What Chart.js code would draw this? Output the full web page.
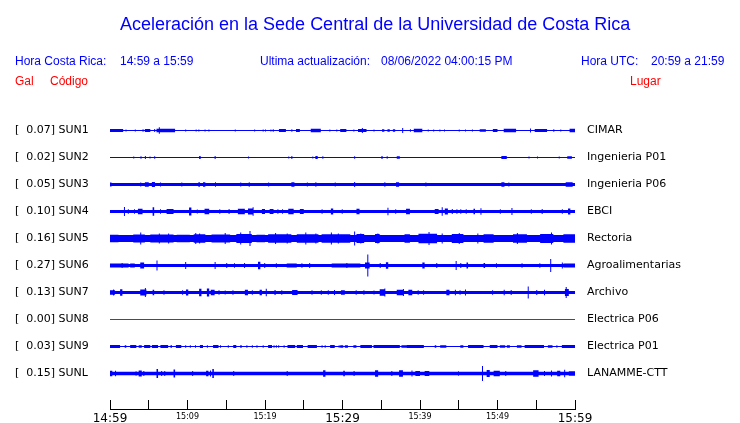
<!DOCTYPE html>
<html><head><meta charset="utf-8">
<script src="https://cdn.jsdelivr.net/npm/chart.js@4.4.1/dist/chart.umd.min.js"></script>
<style>
html,body{margin:0;padding:0;background:#fff;}
#wrap{position:relative;width:740px;height:423px;overflow:hidden;background:#fff;}
#wrap canvas{position:absolute;left:0;top:0;}
.t{position:absolute;font-family:"Liberation Sans",Arial,sans-serif;white-space:pre;line-height:1;}
.b{color:#0000ff;font-size:12px;top:55px;}
.r{color:#ff0000;font-size:12px;top:75px;}
</style></head><body>
<div id="wrap">
<canvas id="c" width="740" height="423"></canvas>
<div class="t" style="left:120px;top:15px;font-size:18px;color:#0000ff">Aceleración en la Sede Central de la Universidad de Costa Rica</div>
<div class="t b" style="left:15px">Hora Costa Rica:</div>
<div class="t b" style="left:120px">14:59 a 15:59</div>
<div class="t b" style="left:260px">Ultima actualización:</div>
<div class="t b" style="left:381px">08/06/2022 04:00:15 PM</div>
<div class="t b" style="left:581px">Hora UTC:</div>
<div class="t b" style="left:651px">20:59 a 21:59</div>
<div class="t r" style="left:15px">Gal</div>
<div class="t r" style="left:50px">Código</div>
<div class="t r" style="left:630px">Lugar</div>
</div>
<script>
// ---- data ----
const codes = ['SUN1','SUN2','SUN3','SUN4','SUN5','SUN6','SUN7','SUN8','SUN9','SUNL'];
const places = ['CIMAR','Ingenieria P01','Ingenieria P06','EBCI','Rectoria','Agroalimentarias','Archivo','Electrica P06','Electrica P01','LANAMME-CTT'];
const galValues = [0.07,0.02,0.05,0.10,0.16,0.27,0.13,0.00,0.03,0.15];
const xTickLabels = ['14:59','','15:09','','15:19','','15:29','','15:39','','15:49','','15:59'];
// background (noise) half-amplitude of each trace
const baseAmp = [0.5,0.5,1.5,1.5,3.5,1.5,1.5,0.5,0.5,1.7];
// bursts / spikes: [start minute, end minute, half amplitude]
const sun1Events = [[0,1.7,1.5],[2.0,2.0,1],[3.2,3.2,1],[4.2,4.2,1.2],[4.5,5.2,1.5],[5.7,5.7,1.5],[6.0,8.4,1.8],[6.3,6.3,3.3],[9.7,9.7,1],[11.05,11.05,1],[11.4,11.4,1],[12.2,12.2,1],[12.7,12.7,1],[16.1,16.1,1],[18.6,18.6,1],[19.7,19.7,1],[20.0,20.0,1],[20.7,20.7,1],[21.0,21.0,1.2],[21.8,22.7,1.5],[23.4,23.4,1.2],[24.0,24.5,1.5],[25.9,27.2,1.7],[28.3,28.3,1],[29.2,29.2,1],[29.7,30.5,1.5],[31.4,31.4,1],[32.0,33.1,1.5],[32.5,32.5,2.5],[34.0,34.0,1],[35.1,35.4,1.3],[35.8,36.1,1.3],[36.5,36.8,1.3],[37.7,37.7,2.5],[38.7,38.7,1.2],[39.2,40.3,1.7],[41.0,41.0,1],[41.7,41.7,1],[42.5,42.5,1],[43.1,43.1,1],[45.0,45.0,1],[45.8,45.8,1],[46.7,46.7,1],[47.7,48.5,1.2],[49.4,50.0,1.5],[50.8,52.4,1.7],[54.2,54.2,2],[54.8,56.4,1.5],[57.2,57.2,1.2],[58.1,58.1,1],[59.3,60,1.7]];
const sun2Events = [[3.0,3.0,1],[3.9,4.1,1],[4.5,4.5,1.5],[5.1,5.1,1],[5.7,5.7,1.3],[11.5,11.7,1.5],[13.5,13.6,1.5],[17.8,17.8,1],[23.0,23.0,1],[23.4,23.4,1.5],[26.1,26.1,1],[26.5,26.8,1.5],[27.4,27.4,1.2],[31.5,31.5,1.3],[35.0,35.2,1.3],[35.7,35.7,1.2],[37.0,37.4,1.3],[50.5,51.2,1.5],[54.0,54.0,1],[55.1,55.1,1],[57.9,57.9,1],[59.0,59.6,1.2]];
const sun3Events = [[0,0.2,2],[3.9,3.9,2],[4.5,5.0,2.2],[5.4,5.8,2.5],[6.45,6.45,2],[9.2,9.2,2],[11.4,11.6,2.2],[12.0,12.3,2.2],[13.55,13.55,2.3],[16.8,16.8,2],[17.9,17.9,2.3],[20.4,20.4,2],[23.4,23.8,2.3],[25.4,25.4,2],[26.5,26.5,2.3],[29.0,29.0,2],[31.5,31.5,2.5],[35.4,35.4,2.2],[36.9,37.3,2.3],[40.7,40.7,2],[50.5,50.9,2.3],[51.4,51.4,2],[58.8,59.7,2.3]];
const sun4Events = [[1.8,1.8,4.5],[2.3,2.3,2.3],[3.1,3.1,2.3],[3.6,4.2,2.7],[5.5,5.7,4.3],[6.45,6.45,2.2],[7.3,8.2,2.5],[10.2,10.5,4],[11.2,11.2,2],[12.2,12.8,2.7],[14.1,14.1,2.2],[15.3,15.3,2.5],[16.5,17.4,2.8],[17.8,18.5,3],[18.4,18.4,4.3],[19.6,20.0,2.5],[20.6,21.1,2.5],[21.6,21.6,2.3],[22.2,22.2,2.2],[23.0,23.7,2.7],[24.5,25.0,2.5],[27.3,27.3,2.3],[28.5,28.8,3],[29.9,29.9,2.2],[31.8,32.2,2.7],[35.8,35.8,3.8],[36.8,36.8,2.2],[38.2,38.7,2.7],[41.9,42.4,2.5],[42.8,42.8,4.3],[43.2,43.6,3],[44.1,44.1,2.5],[44.7,44.7,2.3],[45.2,45.2,2.3],[45.9,45.9,2.3],[46.9,47.1,2.8],[47.8,47.8,3.2],[50.3,50.3,2.3],[51.8,51.8,3.5],[54.3,54.3,2.3],[55.7,55.7,2.5],[58.3,58.3,2.2],[59.1,59.4,3]];
const sun5Events = [[0,1.1,3.8],[3.0,4.5,4],[3.9,3.9,6],[5.2,8.2,4],[6.3,6.3,5],[7.5,7.5,5],[8.6,10.3,3.8],[10.8,12.3,4.2],[11.0,11.0,5.5],[11.5,11.5,5],[13.1,15.5,4],[14.8,14.8,5.5],[16.3,18.3,4.5],[16.8,16.8,6],[18.0,18.0,7.5],[18.9,20.0,3.8],[20.4,23.4,4.2],[21.3,21.3,5.5],[22.8,22.8,5],[24.1,26.9,4.3],[25.2,25.2,6],[26.5,26.5,5],[27.3,30.3,4.2],[28.5,28.5,6],[29.4,29.4,5],[30.3,31.0,4.2],[31.5,31.5,7],[31.8,32.8,4.5],[32.3,32.3,5],[34.2,34.8,4.5],[34.5,34.5,5],[38.0,38.7,4.3],[39.8,42.2,4.8],[41.1,41.1,6.5],[42.8,42.8,5],[44.1,45.6,4.5],[45.0,45.0,5.5],[47.4,47.5,5],[48.2,49.5,4.2],[52.0,53.8,4.3],[52.5,52.5,5.5],[55.5,57.2,4.5],[56.9,56.9,6],[58.5,60,4.3]];
const sun6Events = [[0,2.4,2],[1.5,1.5,2.5],[2.6,3.2,2],[3.9,4.4,3],[6.0,6.0,5],[9.7,9.7,3.5],[13.5,13.5,3.5],[15.0,15.0,2.5],[16.0,16.0,2.2],[17.3,17.3,2.5],[19.1,19.4,3.7],[19.9,19.9,2.5],[21.4,21.4,2.3],[22.8,24.1,2],[24.7,24.7,2.3],[25.7,25.7,2.5],[28.6,32.3,2],[30.5,30.5,2.5],[32.9,33.5,3],[33.2,33.2,11],[34.8,34.8,2.5],[35.6,35.9,3.2],[40.3,40.6,3],[42.1,42.1,2.5],[44.6,44.6,4.5],[45.2,45.2,2.5],[46.0,46.2,3],[48.2,48.4,2.5],[49.8,49.8,2.3],[53.1,53.1,2.3],[55.4,55.4,2.3],[56.8,56.8,6.5],[58.3,58.3,3],[58.5,60,2]];
const sun7Events = [[0,0.65,2.3],[0.4,0.4,3],[1.3,1.6,3.3],[3.9,4.7,3],[4.5,4.5,4.5],[5.5,5.7,2.8],[6.9,6.9,2.3],[9.3,9.3,2.3],[9.8,10.1,3],[11.5,11.8,3.7],[12.5,12.8,4],[13.0,13.5,2.8],[14.0,14.0,2.3],[14.8,14.8,2],[15.8,15.8,2.2],[17.4,17.8,2.8],[18.3,18.3,2.3],[19.3,19.6,2.8],[20.1,20.1,3.7],[21.2,21.4,2.3],[22.1,22.1,2.3],[23.5,24.2,2.5],[26.0,26.0,2.3],[27.2,27.2,2.2],[28.1,28.1,2.2],[28.9,28.9,2.5],[29.8,30.3,2.3],[31.7,31.7,2.3],[32.7,32.7,2.2],[34.0,34.0,2],[34.8,35.5,3.2],[35.4,35.4,4],[37.0,37.9,2.8],[37.8,37.8,3.5],[38.5,39.0,2.8],[39.7,39.7,2.3],[40.4,40.4,2.3],[43.4,43.8,2.8],[44.5,44.5,2.8],[45.1,45.1,2.3],[45.8,45.8,3],[49.3,49.3,2.2],[50.8,50.8,2.8],[51.7,51.7,2.5],[53.9,53.9,6],[55.0,55.0,2.5],[56.0,56.0,2.8],[58.7,59.2,3.5],[58.8,58.8,5.5]];
const sun8Events = [];
const sun9Events = [[0,1.3,1.5],[1.9,2.1,1.3],[2.6,3.4,1.5],[3.7,4.1,1.3],[4.4,5.2,1.5],[5.4,6.2,1.5],[6.5,7.5,1.5],[7.8,8.0,1.3],[8.5,9.2,1.5],[9.7,9.7,1.2],[10.3,10.3,1.2],[10.97,10.97,1.2],[11.6,12.0,1.5],[12.5,12.5,1.2],[13.3,14.0,1.5],[14.2,14.2,1.2],[15.2,15.2,1.2],[15.9,16.3,1.5],[16.8,17.0,1.3],[17.6,17.6,1.2],[18.3,18.3,1.2],[18.9,18.9,1.2],[19.7,19.7,1.2],[20.4,20.9,1.5],[21.1,21.1,1.2],[21.4,21.4,1.2],[21.7,21.7,1.2],[22.4,22.4,1.2],[22.9,23.9,1.5],[24.1,24.9,1.5],[25.5,26.7,1.5],[27.3,27.3,1.2],[27.7,27.7,1.2],[28.4,29.0,1.5],[29.5,29.5,1.2],[29.7,30.1,1.3],[30.3,30.7,1.3],[31.4,31.8,1.3],[32.3,33.8,1.5],[34.0,37.4,1.4],[37.6,38.3,1.3],[38.3,40.5,1.5],[41.9,42.1,1.3],[42.6,43.4,1.3],[45.2,45.6,1.3],[46.2,48.2,1.5],[49.0,50.0,1.5],[50.3,51.0,1.3],[51.2,51.6,1.3],[52.5,53.1,1.3],[53.5,56.0,1.5],[56.5,57.1,1.3],[57.6,57.6,1.2],[58.3,60,1.5]];
const sunLEvents = [[0,0.3,2.8],[0.65,0.65,2.8],[3.3,3.3,2.3],[3.7,4.1,3],[4.3,4.3,2.5],[6.0,6.2,4.5],[6.6,6.6,2.5],[7.0,7.0,2.5],[8.2,8.4,4],[10.6,10.6,2.5],[12.4,12.7,2.8],[12.9,12.9,3],[13.2,13.4,4.5],[15.9,15.9,2.5],[22.8,22.8,2.5],[27.5,27.8,3.3],[30.1,30.3,2.8],[31.4,31.6,2.3],[34.2,34.6,3.3],[36.3,36.3,2.5],[37.3,37.8,3.3],[38.9,38.9,3],[39.4,40.0,2.5],[40.6,41.2,2.5],[44.9,44.9,2.2],[48.0,48.0,7.5],[48.6,49.0,3.5],[49.5,50.3,2.8],[51.0,51.0,2.5],[54.6,55.3,3.3],[56.0,56.0,2.5],[56.9,56.9,3],[57.7,58.1,2.8],[58.6,58.6,3.7],[59.2,60,2.3]];

const allEvents = [sun1Events,sun2Events,sun3Events,sun4Events,sun5Events,sun6Events,sun7Events,sun8Events,sun9Events,sunLEvents];

// ---- drawing ----
const X_MIN = 0, X_MAX = 60, Y_RANGE = 297;
const TOP_CENTER = 278.5, SPACING = 27, SPIKE_W = 0.13;
const traceColors = codes.map(c => c === 'SUN8' ? '#ff0000' : '#0000ff');
const centers = codes.map((_, k) => TOP_CENTER - k * SPACING);

function envelope(base, evs) {
  const segs = evs.map(([t0, t1, a]) => [t0, Math.max(t1, t0 + SPIKE_W), a]);
  let bps = [X_MIN, X_MAX];
  segs.forEach(s => bps.push(s[0], s[1]));
  bps = [...new Set(bps.map(v => Math.min(Math.max(v, X_MIN), X_MAX)))].sort((a, b) => a - b);
  return bps.map((x, i) => {
    const xm = i < bps.length - 1 ? (x + bps[i + 1]) / 2 : x;
    let a = base;
    segs.forEach(s => { if (xm >= s[0] && xm < s[1]) a = Math.max(a, s[2]); });
    return { x, a };
  });
}

const datasets = [];
codes.forEach((code, k) => {
  const env = envelope(baseAmp[k], allEvents[k]);
  const c = centers[k];
  const common = { borderWidth: 0, borderColor: 'rgba(0,0,0,0)', pointRadius: 0, stepped: true, backgroundColor: traceColors[k] };
  datasets.push(Object.assign({ label: code, data: env.map(p => ({ x: p.x, y: c + p.a })), fill: '+1' }, common));
  datasets.push(Object.assign({ label: code + '-', data: env.map(p => ({ x: p.x, y: c - p.a })), fill: false }, common));
});

const leftLabels = codes.map((c, i) => '[  ' + galValues[i].toFixed(2) + '] ' + c);
const labelFont = { family: 'DejaVu Sans', size: 11 };

new Chart(document.getElementById('c'), {
  type: 'line',
  data: { datasets },
  options: {
    responsive: false, animation: false, events: [],
    layout: { padding: { left: 15, right: 0, top: 112, bottom: 0 } },
    plugins: { legend: { display: false }, tooltip: { enabled: false } },
    scales: {
      x: {
        type: 'linear', min: X_MIN, max: X_MAX,
        afterFit: s => { s.height = 14; },
        grid: { drawOnChartArea: false, tickLength: -9, color: '#000', lineWidth: 1 },
        border: { color: '#000', width: 1 },
        ticks: {
          stepSize: 5, autoSkip: false, maxRotation: 0, minRotation: 0, padding: 12, color: '#000',
          font: ctx => ({ family: 'DejaVu Sans', size: (ctx.index % 6 === 0) ? 12 : 8 }),
          callback: (v, i) => xTickLabels[i]
        }
      },
      y: {
        type: 'linear', position: 'left', min: 0, max: Y_RANGE,
        afterBuildTicks: s => { s.ticks = centers.map(v => ({ value: v })); },
        afterFit: s => { s.width = 95; },
        grid: { display: false, drawTicks: false }, border: { display: false },
        ticks: { autoSkip: false, crossAlign: 'far', padding: 0, color: '#000', font: labelFont, callback: (v, i) => leftLabels[i] }
      },
      y2: {
        type: 'linear', position: 'right', min: 0, max: Y_RANGE,
        afterBuildTicks: s => { s.ticks = centers.map(v => ({ value: v })); },
        afterFit: s => { s.width = 165; },
        grid: { display: false, drawTicks: true, tickLength: 12 }, border: { display: false },
        ticks: { autoSkip: false, padding: 0, color: '#000', font: labelFont, callback: (v, i) => places[i] }
      }
    }
  }
});
</script>
</body></html>
